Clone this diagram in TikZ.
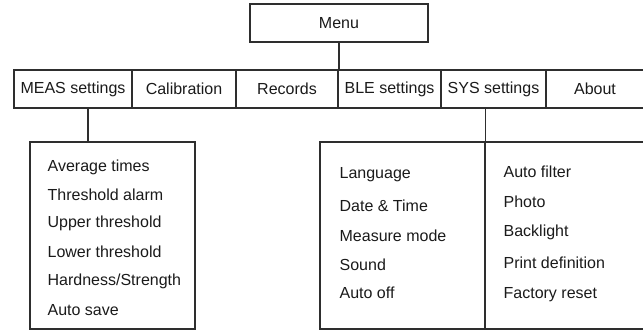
\documentclass[tikz,border=0pt]{standalone}
\usepackage{fontspec}
\setmainfont{Liberation Sans}
\definecolor{linec}{HTML}{2E2E2E}
\definecolor{textc}{HTML}{1A1A1A}
\newcommand{\fs}{\fontsize{16}{19}\selectfont}
\begin{document}
\begin{tikzpicture}[x=1pt,y=-1pt,line width=1.3pt,
  box/.style={draw=linec,rectangle,inner sep=0pt,font=\fs,text=textc},
  cell/.style={box,minimum height=38pt},
  item/.style={anchor=base west,inner sep=0pt,font=\fs,text=textc},
  conn/.style={draw=linec}]
\useasboundingbox (0,0) rectangle (643,330);
% top
\node[box,minimum width=178pt,minimum height=38pt] (menu) at (339,23) {Menu};
% row
\node[cell,minimum width=118pt] (meas) at (73,89) {MEAS settings};
\node[cell,minimum width=104pt] (calib) at (184,89) {Calibration};
\node[cell,minimum width=102pt] (records) at (287,89) {Records};
\node[cell,minimum width=103pt] (ble) at (389.5,89) {BLE settings};
\node[cell,minimum width=105pt] (sys) at (493.5,89) {SYS settings};
\node[cell,minimum width=98pt] (about) at (595,89) {About};
% sub boxes
\node[box,minimum width=165pt,minimum height=187pt] (measbox) at (112.5,235.5) {};
\node[box,minimum width=165pt,minimum height=187pt] (sysl) at (402.5,235.5) {};
\node[box,minimum width=160pt,minimum height=187pt] (sysr) at (565,235.5) {};
% connectors
\draw[conn] (menu.south) -- (menu.south |- records.north);
\coordinate (mx) at (88,0);
\draw[conn] (mx |- meas.south) -- (mx |- measbox.north);
\coordinate (sx) at (485.6,0);
\draw[conn] (sx |- sys.south) -- (sx |- sysl.north);
% MEAS items
\node[item] (m1) at (47,171.5) {Average times};
\node[item] (m2) at (47,200.5) {Threshold alarm};
\node[item] (m3) at (47,227.5) {Upper threshold};
\node[item] (m4) at (47,257.5) {Lower threshold};
\node[item] (m5) at (47,285.5) {Hardness/Strength};
\node[item] (m6) at (47,315) {Auto save};
% SYS left items
\node[item] (s1) at (339,178.5) {Language};
\node[item] (s2) at (339,211.5) {Date \& Time};
\node[item] (s3) at (339,241.5) {Measure mode};
\node[item] (s4) at (339,270.5) {Sound};
\node[item] (s5) at (339,298.5) {Auto off};
% SYS right items
\node[item] (r1) at (503,177.5) {Auto filter};
\node[item] (r2) at (503,207.5) {Photo};
\node[item] (r3) at (503,236.5) {Backlight};
\node[item] (r4) at (503,268.5) {Print definition};
\node[item] (r5) at (503,298.5) {Factory reset};
\end{tikzpicture}
\end{document}
